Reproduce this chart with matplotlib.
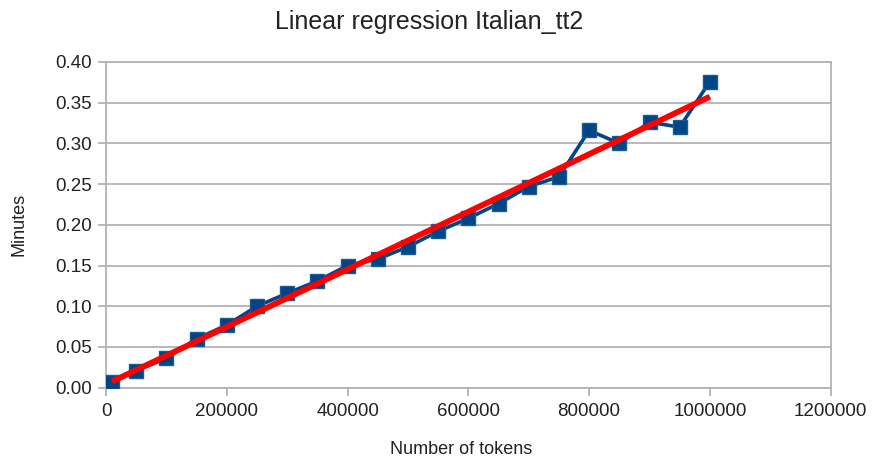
import numpy as np
import matplotlib
matplotlib.use('Agg')
import matplotlib.pyplot as plt

# data
tokens = [10000, 50000, 100000, 150000, 200000, 250000, 300000, 350000,
          400000, 450000, 500000, 550000, 600000, 650000, 700000, 750000,
          800000, 850000, 900000, 950000, 1000000]
minutes = [0.007, 0.021, 0.036, 0.060, 0.077, 0.100, 0.116, 0.131,
           0.150, 0.158, 0.173, 0.192, 0.208, 0.226, 0.247, 0.259,
           0.316, 0.300, 0.326, 0.320, 0.376]
x_ticks = [0, 200000, 400000, 600000, 800000, 1000000, 1200000]
y_ticks = [0.00, 0.05, 0.10, 0.15, 0.20, 0.25, 0.30, 0.35, 0.40]

plt.rcParams['font.family'] = ['Liberation Sans', 'DejaVu Sans']
grey = '#b3b3b3'

fig = plt.figure(figsize=(8.72, 4.66), dpi=100)
ax = fig.add_axes([0.1216, 0.168, 0.831, 0.699])

ax.plot(tokens, minutes, color='#004586', lw=2.6, marker='s', ms=10.5,
        mec='#1a5a96', mew=1.0, zorder=3)

# linear fit
k, b = np.polyfit(tokens, minutes, 1)
xs = np.array([tokens[0], tokens[-1]])
ax.plot(xs, k * xs + b, color='#ff0000', lw=4.2, solid_capstyle='butt', zorder=4)

ax.set_xlim(0, 1200000)
ax.set_ylim(0, 0.40)
ax.set_xticks(x_ticks)
ax.set_yticks(y_ticks)
ax.set_xticklabels([str(t) for t in x_ticks])
ax.set_yticklabels(['%.2f' % t for t in y_ticks])
ax.grid(axis='y', color=grey, lw=1.3)
ax.set_axisbelow(True)
for s in ax.spines.values():
    s.set_color(grey)
    s.set_linewidth(1.3)
ax.tick_params(colors=grey, labelcolor='#222222', labelsize=13.5,
               length=6, width=1.3)
ax.tick_params(axis='y', pad=4)
ax.tick_params(axis='x', pad=5)

fig.text(429 / 872, 1 - 22 / 466, 'Linear regression Italian_tt2',
         fontsize=18, ha='center', va='center', color='#222222')
fig.text(461 / 872, 1 - 450 / 466, 'Number of tokens',
         fontsize=13, ha='center', va='center', color='#222222')
fig.text(19 / 872, 1 - 224 / 466, 'Minutes', rotation=90,
         fontsize=13, ha='center', va='center', color='#222222')

fig.savefig('out.png', dpi=100)
